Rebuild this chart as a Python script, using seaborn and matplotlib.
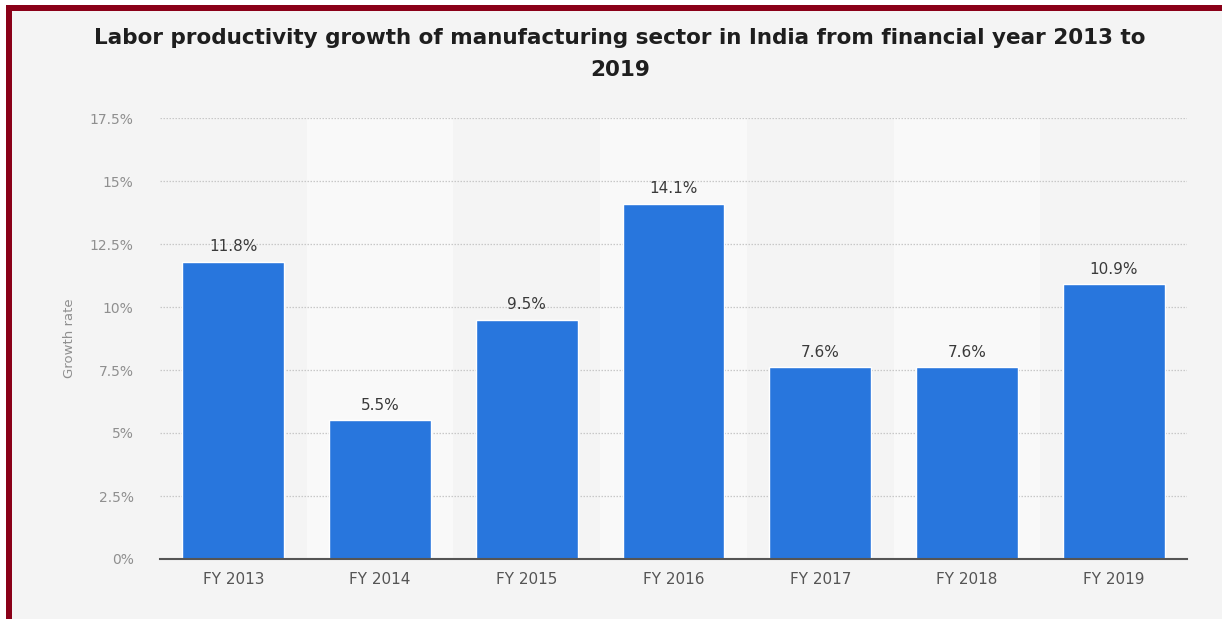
import matplotlib
matplotlib.use("Agg")
import matplotlib.pyplot as plt
import seaborn as sns
import pandas as pd
from matplotlib.patches import Rectangle

categories = ["FY 2013", "FY 2014", "FY 2015", "FY 2016", "FY 2017", "FY 2018", "FY 2019"]
growth = [11.8, 5.5, 9.5, 14.1, 7.6, 7.6, 10.9]
y_ticks = [0, 2.5, 5, 7.5, 10, 12.5, 15, 17.5]
y_tick_labels = ["0%", "2.5%", "5%", "7.5%", "10%", "12.5%", "15%", "17.5%"]

df = pd.DataFrame({"year": categories, "growth": growth})

sns.set_theme(style="white")
plt.rcParams["font.family"] = ["DejaVu Sans"]

bg = "#f4f4f4"
fig = plt.figure(figsize=(12.22, 6.19), dpi=100, facecolor="white")

# page background with dark red frame on the left and top
fig.patches.append(Rectangle((6 / 1222, 0), 1 - 6 / 1222, 1 - 5 / 619,
                             transform=fig.transFigure, facecolor="#8a0018",
                             edgecolor="none", zorder=-3))
fig.patches.append(Rectangle((12 / 1222, 0), 1, 1 - 11 / 619,
                             transform=fig.transFigure, facecolor=bg,
                             edgecolor="none", zorder=-2))

ax = fig.add_axes([160 / 1222, 1 - 559 / 619, (1187 - 160) / 1222, (559 - 118) / 619])
ax.set_facecolor(bg)

# alternating column bands
for i in range(len(categories)):
    if i % 2 == 1:
        ax.axvspan(i - 0.5, i + 0.5, color="#f9f9f9", zorder=0, lw=0)

for t in y_ticks[1:]:
    ax.axhline(t, color="#c8c8c8", lw=0.9, ls=(0, (1.2, 1.2)), zorder=1)

sns.barplot(data=df, x="year", y="growth", color="#2876dd", width=0.695,
            saturation=1, ax=ax, zorder=2)

for i, v in enumerate(growth):
    ax.text(i, v + 0.3, f"{v}%", ha="center", va="bottom", fontsize=11,
            color="#3a3a3a", zorder=3)

ax.set_xlim(-0.5, len(categories) - 0.5)
ax.set_ylim(0, 17.5)
ax.set_yticks(y_ticks)
ax.set_yticklabels(y_tick_labels)
ax.tick_params(axis="y", length=0, pad=19, labelsize=10, labelcolor="#8f8f8f")
ax.tick_params(axis="x", length=0, pad=9, labelsize=11, labelcolor="#555555")
ax.set_xlabel("")
ax.set_ylabel("Growth rate", fontsize=9.5, color="#8f8f8f", labelpad=10)

for side in ["top", "right", "left"]:
    ax.spines[side].set_visible(False)
ax.spines["bottom"].set_color("#555555")
ax.spines["bottom"].set_linewidth(1.5)
ax.spines["bottom"].set_zorder(4)

fig.text(620 / 1222, 1 - 38 / 619,
         "Labor productivity growth of manufacturing sector in India from financial year 2013 to",
         ha="center", va="center", fontsize=15.5, fontweight="bold", color="#1e1e1e")
fig.text(620 / 1222, 1 - 70 / 619, "2019",
         ha="center", va="center", fontsize=15.5, fontweight="bold", color="#1e1e1e")

fig.savefig("out.png", dpi=100, facecolor="white")
